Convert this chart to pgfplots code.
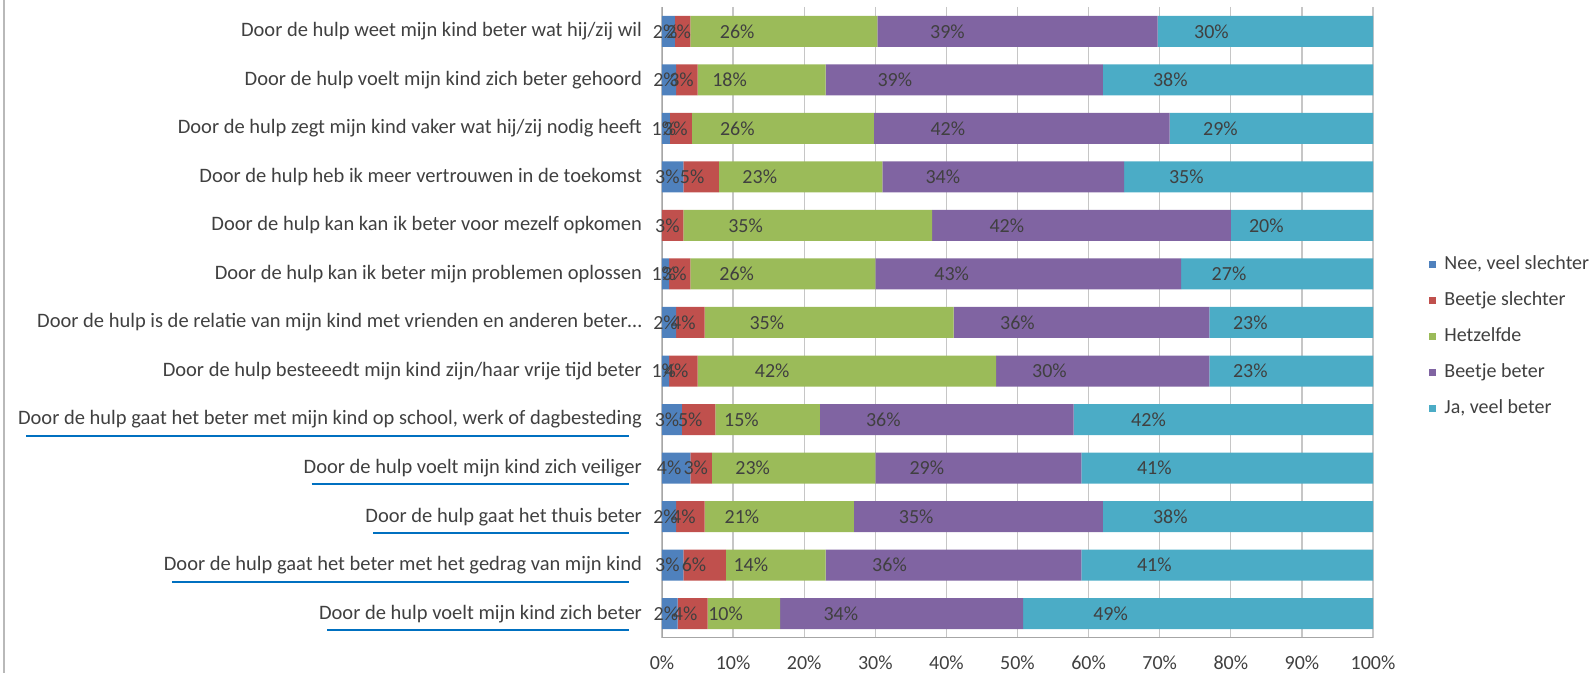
\documentclass[border=0pt]{standalone}
\usepackage{pgfplots}
\pgfplotsset{compat=1.18}
\usepackage{pgfplotstable}
\usepackage{fontspec}
\setmainfont{Carlito}
\definecolor{cBlue}{HTML}{4F81BD}
\definecolor{cRed}{HTML}{C0504D}
\definecolor{cGreen}{HTML}{9BBB59}
\definecolor{cPurple}{HTML}{8064A2}
\definecolor{cTeal}{HTML}{4BACC6}
\definecolor{ulblue}{HTML}{0070C0}
\definecolor{txt}{HTML}{404040}
\newsavebox\ulbox
\newlength\ullen
\newcommand\ul[1]{\sbox\ulbox{#1}\setlength\ullen{\wd\ulbox}\addtolength\ullen{-10.5pt}\rlap{\hspace{4pt}\smash{\raisebox{-6pt}{\textcolor{ulblue}{\rule{\ullen}{1pt}}}}}#1}
\pgfplotstableread{
idx nee slecht zelfde beetje ja
0 1.8 2.2 26.3 39.4 30.3
1 2 3 18 39 38
2 1.1 3.1 25.6 41.6 28.6
3 3 5 23 34 35
4 0 3 35 42 20
5 1 3 26 43 27
6 2 4 35 36 23
7 1 4 42 30 23
8 2.8 4.7 14.7 35.7 42.1
9 4 3 23 29 41
10 2 4 21 35 38
11 3 6 14 36 41
12 2.2 4.2 10.2 34.2 49.2
}\datatable
\begin{document}
\begin{tikzpicture}
\useasboundingbox (0,0) rectangle (798pt,336.5pt);
\draw[gray!55, line width=0.8pt] (2pt,0) -- (2pt,336.5pt);
\begin{axis}[
  at={(331pt,17.5pt)}, anchor=south west,
  scale only axis, width=355.5pt, height=315.5pt,
  xbar stacked, bar width=15.5pt,
  xmin=0, xmax=100, ymin=-0.5, ymax=12.5, y dir=reverse,
  xtick={0,10,20,30,40,50,60,70,80,90,100},
  xticklabels={0\%,10\%,20\%,30\%,40\%,50\%,60\%,70\%,80\%,90\%,100\%},
  ytick={0,1,2,3,4,5,6,7,8,9,10,11,12},
  yticklabels={
    {Door de hulp weet mijn kind beter wat hij/zij wil},
    {Door de hulp voelt mijn kind zich beter gehoord},
    {Door de hulp zegt mijn kind vaker wat hij/zij nodig heeft},
    {Door de hulp heb ik meer vertrouwen in de toekomst},
    {Door de hulp kan kan ik beter voor mezelf opkomen},
    {Door de hulp kan ik beter mijn problemen oplossen},
    {Door de hulp is de relatie van mijn kind met vrienden en anderen beter\dots},
    {Door de hulp besteeedt mijn kind zijn/haar vrije tijd beter},
    {\ul{Door de hulp gaat het beter met mijn kind op school, werk of dagbesteding}},
    {\ul{Door de hulp voelt mijn kind zich veiliger}},
    {\ul{Door de hulp gaat het thuis beter}},
    {\ul{Door de hulp gaat het beter met het gedrag van mijn kind}},
    {\ul{Door de hulp voelt mijn kind zich beter}}},
  xmajorgrids, grid style={gray!45, line width=0.6pt},
  axis line style={draw=none},
  major tick length=0pt,
  tick label style={font=\fontsize{10}{12}\selectfont, text=txt},
  yticklabel style={xshift=-6.5pt, font=\fontsize{10.25}{12}\selectfont},
  xticklabel style={yshift=-5.5pt},
  visualization depends on={rawx \as \rawx},
  nodes near coords={\ifdim\rawx pt>0.1pt \pgfmathprintnumber[fixed,precision=0,assume math mode=true]{\rawx}\%\fi},
  every node near coord/.append style={anchor=center, font=\fontsize{10}{12}\selectfont, text=txt,
     shift={(axis direction cs:-\rawx/4,0)}},
  legend style={at={(1.07,0.478)}, anchor=west, draw=none, fill=none,
     font=\fontsize{10}{12}\selectfont, text=txt, row sep=5.55pt,
     /tikz/every odd column/.append style={column sep=2pt}},
  legend cell align=left,
  legend image code/.code={\fill[#1,draw=none] (0pt,-1.8pt) rectangle (3.6pt,1.8pt);},
]
\addplot[fill=cBlue, draw=none] table[x=nee, y=idx] {\datatable};
\addlegendentry{Nee, veel slechter}
\addplot[fill=cRed, draw=none] table[x=slecht, y=idx] {\datatable};
\addlegendentry{Beetje slechter}
\addplot[fill=cGreen, draw=none] table[x=zelfde, y=idx] {\datatable};
\addlegendentry{Hetzelfde}
\addplot[fill=cPurple, draw=none] table[x=beetje, y=idx] {\datatable};
\addlegendentry{Beetje beter}
\addplot[fill=cTeal, draw=none] table[x=ja, y=idx] {\datatable};
\addlegendentry{Ja, veel beter}
\draw[gray!70, line width=0.6pt] (axis description cs:0,0) -- (axis description cs:1,0);
\draw[gray!70, line width=0.6pt] (axis description cs:0,0) -- (axis description cs:0,1);
\end{axis}
\end{tikzpicture}
\end{document}
